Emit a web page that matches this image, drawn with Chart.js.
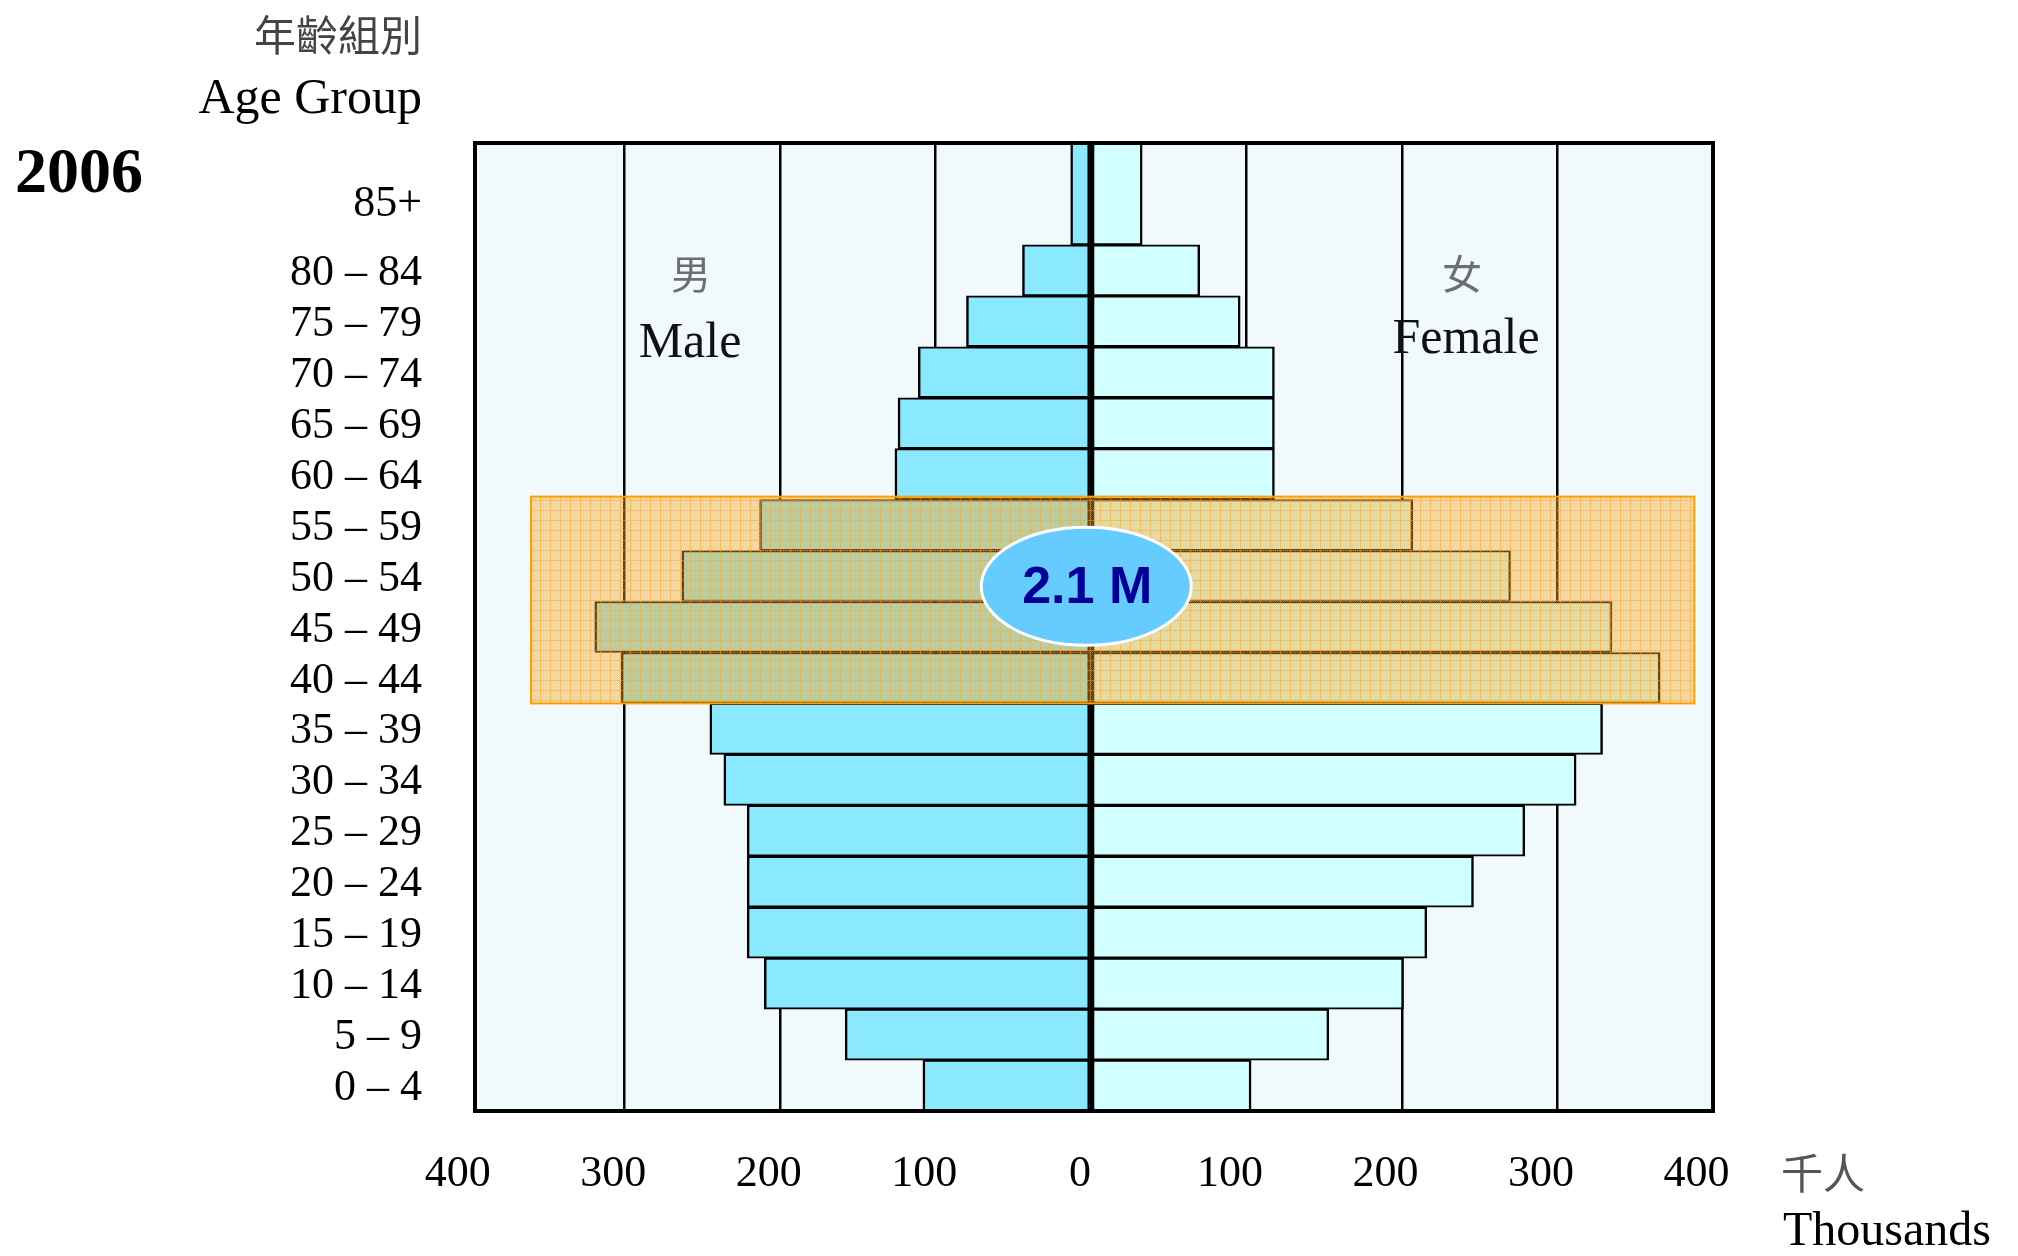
<!DOCTYPE html>
<html>
<head>
<meta charset="utf-8">
<script src="https://cdn.jsdelivr.net/npm/chart.js@4.4.1/dist/chart.umd.min.js"></script>
<style>
  html, body { margin: 0; padding: 0; background: #ffffff; }
  #wrap { width: 2018px; height: 1256px; position: relative; }
</style>
</head>
<body>
<div id="wrap"><canvas id="c" width="2018" height="1256"></canvas></div>
<script>
// ---- data (thousands) ----
const ageGroups = ['0 – 4','5 – 9','10 – 14','15 – 19','20 – 24','25 – 29','30 – 34','35 – 39',
                   '40 – 44','45 – 49','50 – 54','55 – 59','60 – 64','65 – 69','70 – 74','75 – 79','80 – 84','85+'];
const male   = [108, 158, 210, 221, 221, 221, 236, 245, 302, 319, 263, 213, 126, 124, 111, 80, 44, 13];
const female = [103, 153, 201, 216, 246, 279, 312, 329, 366, 335, 270, 207, 118, 118, 118, 96, 70, 33];
const xTickValues = [-400, -300, -200, -100, 0, 100, 200, 300, 400];
const xRange = [-396, 400];
const highlightGroups = ['40 – 44', '55 – 59'];
const highlightRange = [-360, 388];
const calloutText = '2.1 M';
const calloutAt = [-3, 9.8];

// chart table: the 85+ bar is drawn up to the frame top (an extra unlabeled band)
const chartLabels = [...ageGroups, ''];
const maleData = [...male.map(v => -v), -male[male.length - 1]];
const femaleData = [...female, female[female.length - 1]];
const TOP = chartLabels.length - 1, OLDEST = ageGroups.length - 1;

function bw(ctx) {
  if (ctx.dataIndex === TOP) return {top: 0, bottom: 0, left: 2.5, right: 2.5};
  if (ctx.dataIndex === OLDEST) return {top: 0, bottom: 2, left: 2.5, right: 2.5};
  return {top: 2, bottom: 2, left: 2.5, right: 2.5};
}

// overlay mesh pattern
const pc = document.createElement('canvas');
pc.width = 10; pc.height = 10;
const pctx = pc.getContext('2d');
for (let i = 0; i < 10; i++) {
  for (let j = 0; j < 10; j++) {
    let a;
    if (i === 0 || j === 0) a = 0.72;
    else a = ((i + j) % 2 === 0) ? 0.52 : 0.30;
    pctx.fillStyle = 'rgba(255,165,30,' + a + ')';
    pctx.fillRect(i, j, 1, 1);
  }
}

const SERIF = '"Liberation Serif", "Times New Roman", serif';
const CJK = '"Noto Sans CJK TC", "Noto Sans CJK SC", sans-serif';

const decor = {
  id: 'decor',
  beforeDraw(chart) {
    const {ctx, chartArea: a} = chart;
    ctx.save();
    ctx.fillStyle = 'rgb(240,249,252)';
    ctx.fillRect(a.left, a.top, a.right - a.left, a.bottom - a.top);
    ctx.restore();
  },
  afterDatasetsDraw(chart) {
    const {ctx} = chart;
    const xs = chart.scales.x, ys = chart.scales.y;
    // Male / Female labels
    ctx.save();
    ctx.textAlign = 'center';
    ctx.textBaseline = 'middle';
    ctx.fillStyle = '#6e6e6e';
    ctx.font = '40px ' + CJK;
    ctx.fillText('男', 691, 274);
    ctx.fillText('女', 1462, 274);
    ctx.textBaseline = 'alphabetic';
    ctx.fillStyle = '#111';
    ctx.font = '50px ' + SERIF;
    ctx.fillText('Male', 690, 357);
    ctx.fillText('Female', 1466, 353);

    // highlight box
    const i0 = ageGroups.indexOf(highlightGroups[0]);
    const i1 = ageGroups.indexOf(highlightGroups[1]);
    const x0 = xs.getPixelForValue(highlightRange[0]);
    const x1 = xs.getPixelForValue(highlightRange[1]);
    const yA = ys.getPixelForValue(i1 + 0.5) - 3;
    const yB = ys.getPixelForValue(i0 - 0.5);
    ctx.fillStyle = ctx.createPattern(pc, 'repeat');
    ctx.fillRect(x0, yA, x1 - x0, yB - yA);
    ctx.strokeStyle = 'rgb(255,160,0)';
    ctx.lineWidth = 2;
    ctx.strokeRect(x0, yA, x1 - x0, yB - yA);

    // callout ellipse
    const cx = xs.getPixelForValue(calloutAt[0]);
    const cy = ys.getPixelForValue(calloutAt[1]);
    ctx.beginPath();
    ctx.ellipse(cx, cy, 105, 59, 0, 0, Math.PI * 2);
    ctx.fillStyle = 'rgb(102,204,255)';
    ctx.fill();
    ctx.lineWidth = 3;
    ctx.strokeStyle = '#ffffff';
    ctx.stroke();
    ctx.fillStyle = 'rgb(0,0,153)';
    ctx.font = 'bold 52px "Liberation Sans", Arial, sans-serif';
    ctx.textAlign = 'center';
    ctx.textBaseline = 'middle';
    ctx.fillText(calloutText, cx + 1, cy + 2);
    ctx.restore();
  },
  afterDraw(chart) {
    const {ctx, chartArea: a} = chart;
    ctx.save();
    // frame
    ctx.strokeStyle = '#000';
    ctx.lineWidth = 4;
    ctx.strokeRect(a.left, a.top, a.right - a.left, a.bottom - a.top);
    // outer texts
    ctx.textAlign = 'right';
    ctx.textBaseline = 'middle';
    ctx.fillStyle = '#444';
    ctx.font = '42px ' + CJK;
    ctx.fillText('年齡組別', 422, 35);
    ctx.fillStyle = '#000';
    ctx.textBaseline = 'alphabetic';
    ctx.font = '50px ' + SERIF;
    ctx.fillText('Age Group', 422, 113);
    ctx.textAlign = 'left';
    ctx.font = 'bold 64px ' + SERIF;
    ctx.fillText('2006', 15, 192);
    ctx.fillStyle = '#555';
    ctx.textBaseline = 'middle';
    ctx.font = '42px ' + CJK;
    ctx.fillText('千人', 1781, 1173);
    ctx.fillStyle = '#000';
    ctx.textBaseline = 'alphabetic';
    ctx.font = '48px ' + SERIF;
    ctx.fillText('Thousands', 1783, 1245);
    ctx.restore();
  }
};

new Chart(document.getElementById('c'), {
  type: 'bar',
  data: {
    labels: chartLabels,
    datasets: [
      { label: 'Male', data: maleData, backgroundColor: 'rgb(138,232,255)', borderColor: '#000',
        borderWidth: bw, borderSkipped: false, barPercentage: 1, categoryPercentage: 1 },
      { label: 'Female', data: femaleData, backgroundColor: 'rgb(210,255,255)', borderColor: '#000',
        borderWidth: bw, borderSkipped: false, barPercentage: 1, categoryPercentage: 1 }
    ]
  },
  plugins: [decor],
  options: {
    indexAxis: 'y',
    responsive: false,
    animation: false,
    devicePixelRatio: 1,
    layout: { padding: { left: 0, right: 305, top: 143, bottom: 0 } },
    plugins: { legend: { display: false }, tooltip: { enabled: false } },
    scales: {
      x: {
        type: 'linear',
        stacked: true,
        min: xRange[0],
        max: xRange[1],
        afterBuildTicks(scale) { scale.ticks = xTickValues.map(v => ({ value: v })); },
        afterFit(scale) { scale.height = 145; },
        grid: {
          color: ctx => (ctx.tick && Math.abs(ctx.tick.value) >= 400) ? 'rgba(0,0,0,0)' : '#000',
          lineWidth: 2.5,
          drawTicks: false
        },
        border: { display: false },
        ticks: {
          padding: 37,
          labelOffset: -11,
          color: '#000',
          font: { family: SERIF, size: 44 },
          callback: v => v > 0 ? String(v) + ' ' : String(Math.abs(v))
        }
      },
      y: {
        stacked: true,
        reverse: true,
        afterFit(scale) { scale.width = 475; },
        grid: { display: false, drawTicks: false },
        border: { display: false },
        ticks: {
          padding: 53,
          labelOffset: 3,
          color: '#000',
          autoSkip: false,
          font: ctx => ({ family: SERIF, size: 44, lineHeight: ctx.index === OLDEST ? 0.8 : 1.2 }),
          callback: function(v, i) {
            const l = chartLabels[i];
            return i === OLDEST ? [l, ''] : l;
          }
        }
      }
    }
  }
});
</script>
</body>
</html>
